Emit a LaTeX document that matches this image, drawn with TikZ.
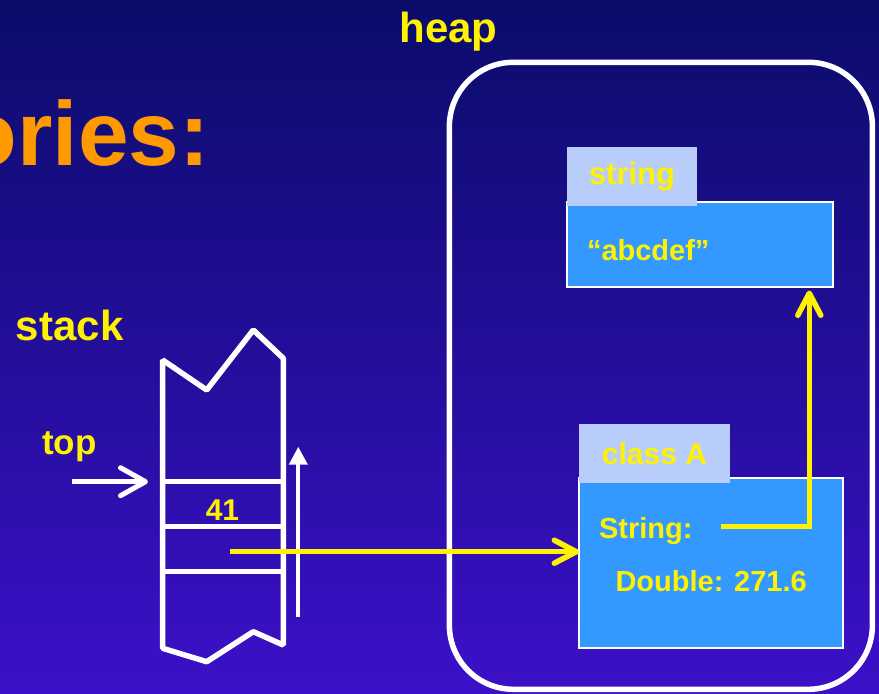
\documentclass[tikz,border=0pt]{standalone}
\usepackage{fontspec}
\setmainfont{Liberation Sans}
\usetikzlibrary{arrows.meta}

\definecolor{bgtop}{HTML}{0A0C6A}
\definecolor{bgmid}{HTML}{1216A8}
\definecolor{bgbot}{HTML}{3C10C8}
\definecolor{titleorange}{HTML}{FF9900}
\definecolor{objfill}{HTML}{3399FF}
\definecolor{tabfill}{HTML}{B9CDFB}

\tikzset{
  txt/.style={text=yellow, inner sep=0pt, outer sep=0pt},
  fs/.style={font=\fontsize{#1}{#1}\selectfont\bfseries},
  objbox/.style={draw=white, line width=2pt, fill=objfill, inner sep=0pt, outer sep=0pt},
  tabbox/.style={fill=tabfill, inner sep=0pt, outer sep=0pt, text=yellow},
  stackline/.style={draw=white, line width=5.5pt, line join=bevel},
  ptr/.style={draw=yellow, line width=5.5pt,
    -{Straight Barb[length=22pt,width=23pt,round]}},
}

\begin{document}
\begin{tikzpicture}[x=1pt,y=-1pt]
\path[use as bounding box] (0,0) rectangle (879,694);
\clip (0,0) rectangle (879,694);
\shade[top color=bgtop, middle color=bgmid, bottom color=bgbot] (0,0) rectangle (879,694);

% slide title fragment
\node[txt, text=titleorange, fs=91, anchor=base west] (title) at (-38,165) {ories:};

% heap region
\node[draw=white, line width=5.5pt, rounded corners=64pt, minimum width=423pt,
      minimum height=627pt, inner sep=0pt] (heapbox) at (660.9,375.8) {};
\node[txt, fs=42, anchor=base] (heaplbl) at (448.5,42.5) {heap};

% string object
\node[objbox, minimum width=265.4pt, minimum height=85pt] (strbox) at (700,244.2) {};
\node[tabbox, minimum width=129.4pt, minimum height=59pt, fs=31] (strtab) at (632,176.2) {string};
\node[txt, fs=29, anchor=base west] (strval) at (587,260) {“abcdef”};

% class A object
\node[objbox, minimum width=264.3pt, minimum height=170pt] (classA) at (711.2,563.3) {};
\node[tabbox, minimum width=151pt, minimum height=58.7pt, fs=30] (classtab) at (654.5,453.4) {class A};
\node[txt, fs=29, anchor=base west] (fieldstr) at (599,538) {String:};
\node[txt, fs=29, anchor=base west] (fielddbl) at (615.5,591.5) {Double: 271.6};

% stack
\node[txt, fs=42, anchor=base west] (stacklbl) at (16,340) {stack};
\node[txt, fs=35, anchor=base west] (toplbl) at (42,454) {top};
\path[stackline] (162.7,360) -- (206.7,390) -- (253.3,330) -- (283.3,358.3)
  -- (283.3,645) -- (253.3,631.7) -- (206.7,661.7) -- (162.7,648.3) -- cycle;
\draw[stackline] (162.7,481.7) -- (283.3,481.7);
\draw[stackline] (162.7,526.7) -- (283.3,526.7);
\draw[stackline] (162.7,571.7) -- (283.3,571.7);
\node[txt, fs=30, anchor=base] (cellval) at (222.5,520) {41};

% top-of-stack marker and growth direction
\coordinate (toptail) at (72,481.7);
\coordinate (toptip) at (148,481.7);
\draw[white, line width=5pt, -{Straight Barb[length=25pt,width=28pt,round]}] (toptail) -- (toptip);
\coordinate (growlow) at (298.3,616.7);
\coordinate (growtip) at (298.3,446.7);
\draw[white, line width=4pt, -{Triangle[length=18pt,width=18pt]}] (growlow) -- (growtip);

% references
\coordinate (refstart) at (230,551.7);
\draw[ptr] (refstart) -- (refstart -| classA.west);
\coordinate (strptr) at (721,526.7);
\coordinate (strtip) at (809.3,290.5);
\draw[ptr] (strptr) -| (strtip);
\end{tikzpicture}
\end{document}
